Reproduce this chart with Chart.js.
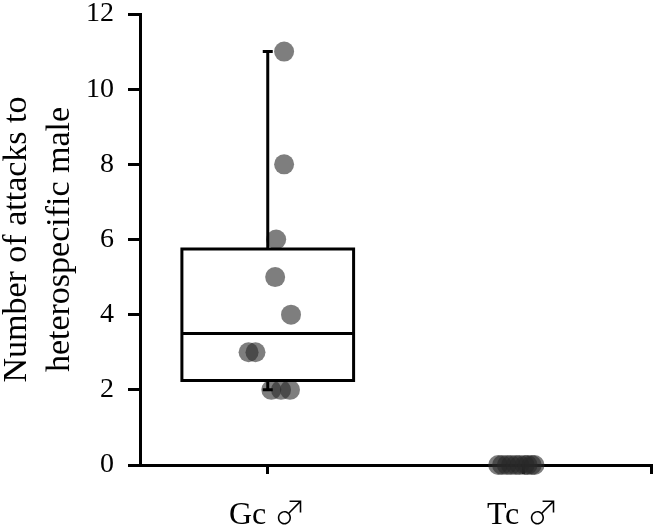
<!DOCTYPE html>
<html lang="en">
<head>
  <meta charset="UTF-8" />
  <title>Attacks to heterospecific male</title>
  <script src="https://cdn.jsdelivr.net/npm/chart.js"></script>
  <style>
    /* Latin letters from the serif, the male sign from the wider CJK glyph */
    @font-face {
      font-family: 'LabelSerif';
      src: local('Liberation Serif');
      unicode-range: U+0000-25FF;
    }
    @font-face {
      font-family: 'LabelSerif';
      src: local('Noto Sans CJK JP Light'), local('Noto Sans CJK JP DemiLight'), local('Noto Sans CJK JP');
      unicode-range: U+2640-2642;
    }
    html, body { margin: 0; padding: 0; background: #fff; }
    #wrap { width: 661px; height: 532px; }
  </style>
</head>
<body>
  <div id="wrap"><canvas id="attackChart" width="661" height="532"></canvas></div>

  <script>
    // categories on the x axis (centre of each one sits at index + 0.5)
    const categories = ['Gc \u2642', 'Tc \u2642'];

    // number of attacks per male, and the horizontal jitter of each dot
    const gcValues = [11, 8, 6, 5, 4, 3, 3, 2, 2, 2];
    const gcJitter = [0.064, 0.064, 0.033, 0.029, 0.091, -0.075, -0.048, 0.014, 0.052, 0.087];
    const tcValues = [0, 0, 0, 0, 0, 0, 0, 0, 0, 0];
    const tcJitter = [-0.098, -0.083, -0.064, -0.048, -0.029, -0.014, 0.006, 0.017, 0.033, 0.044];

    const yTicks = [0, 2, 4, 6, 8, 10, 12];

    const FONT = "'Liberation Serif', 'Times New Roman', serif";
    const LABEL_FONT = "LabelSerif, 'Liberation Serif', serif";

    // quartile like Excel's QUARTILE.INC
    function quantile(sorted, p) {
      const pos = (sorted.length - 1) * p;
      const lo = Math.floor(pos);
      const hi = Math.ceil(pos);
      return sorted[lo] + (sorted[hi] - sorted[lo]) * (pos - lo);
    }
    function boxStats(values) {
      const s = values.slice().sort((a, b) => a - b);
      return {
        min: s[0],
        q1: quantile(s, 0.25),
        median: quantile(s, 0.5),
        q3: quantile(s, 0.75),
        max: s[s.length - 1]
      };
    }
    const boxes = [boxStats(gcValues), boxStats(tcValues)];

    function toPoints(values, jitter, idx) {
      return values.map((v, i) => ({ x: idx + 0.5 + jitter[i], y: v }));
    }

    // no extra room for the outer tick labels, the layout padding sets the plot area
    function noLabelPadding(scale) {
      scale.paddingTop = 0;
      scale.paddingBottom = 0;
      scale.paddingLeft = 0;
      scale.paddingRight = 0;
    }

    // draws the box and whiskers over the dots, using the chart scales
    const boxPlot = {
      id: 'boxPlot',
      afterDatasetsDraw(chart) {
        const { ctx, scales: { x, y } } = chart;
        const half = (x.getPixelForValue(1) - x.getPixelForValue(0)) * 0.336;
        const cap = 5;
        ctx.save();
        ctx.strokeStyle = '#000';
        ctx.lineWidth = 3;
        boxes.forEach((b, i) => {
          if (b.max === b.min) return;
          const cx = x.getPixelForValue(i + 0.5);
          const yq1 = y.getPixelForValue(b.q1);
          const yq3 = y.getPixelForValue(b.q3);
          const ymed = y.getPixelForValue(b.median);
          const ymax = y.getPixelForValue(b.max);
          const ymin = y.getPixelForValue(b.min);
          ctx.beginPath();
          ctx.rect(cx - half, yq3, half * 2, yq1 - yq3);
          ctx.moveTo(cx - half, ymed);
          ctx.lineTo(cx + half, ymed);
          ctx.moveTo(cx, yq3);
          ctx.lineTo(cx, ymax);
          ctx.moveTo(cx - cap, ymax);
          ctx.lineTo(cx + cap, ymax);
          ctx.moveTo(cx, yq1);
          ctx.lineTo(cx, ymin);
          ctx.moveTo(cx - cap, ymin);
          ctx.lineTo(cx + cap, ymin);
          ctx.stroke();
        });
        ctx.restore();
      }
    };

    const dotStyle = {
      pointRadius: 10,
      pointHoverRadius: 10,
      pointBorderWidth: 0,
      backgroundColor: 'rgba(40, 40, 40, 0.6)',
      borderColor: 'rgba(40, 40, 40, 0.6)',
      clip: false
    };

    function drawChart() {
      const ctx = document.getElementById('attackChart').getContext('2d');
      new Chart(ctx, {
        type: 'scatter',
        data: {
          datasets: [
            Object.assign({ label: categories[0], data: toPoints(gcValues, gcJitter, 0) }, dotStyle),
            Object.assign({ label: categories[1], data: toPoints(tcValues, tcJitter, 1) }, dotStyle)
          ]
        },
        options: {
          responsive: false,
          animation: false,
          layout: { padding: { top: 14, right: 3, left: 0, bottom: 0 } },
          plugins: {
            legend: { display: false },
            tooltip: { enabled: false }
          },
          scales: {
            x: {
              type: 'linear',
              min: 0,
              max: categories.length,
              afterBuildTicks(scale) {
                const t = categories.map((_, i) => ({ value: i + 0.5 }));
                t.push({ value: categories.length });
                scale.ticks = t;
              },
              afterFit(scale) {
                scale.height = 67;
                noLabelPadding(scale);
              },
              ticks: {
                color: '#000',
                padding: 22,
                font: { family: LABEL_FONT, size: 32 },
                callback(value) {
                  const i = Math.round(value - 0.5);
                  return Math.abs(value - 0.5 - i) < 1e-6 ? categories[i] : '';
                }
              },
              grid: {
                drawOnChartArea: false,
                drawTicks: true,
                tickLength: 9,
                color: '#000',
                lineWidth: 3
              },
              border: { display: true, color: '#000', width: 3 }
            },
            y: {
              min: 0,
              max: 12,
              afterBuildTicks(scale) {
                scale.ticks = yTicks.map(v => ({ value: v }));
              },
              afterFit(scale) {
                scale.width = 140;
                noLabelPadding(scale);
              },
              ticks: {
                color: '#000',
                padding: 14,
                font: { family: FONT, size: 28 }
              },
              grid: {
                drawOnChartArea: false,
                drawTicks: true,
                tickLength: 12,
                color: '#000',
                lineWidth: 3
              },
              border: { display: true, color: '#000', width: 3 },
              title: {
                display: true,
                text: ['Number of attacks to', 'heterospecific male'],
                color: '#000',
                padding: { top: -4, bottom: 0 },
                font: { family: FONT, size: 34, lineHeight: 1.25 }
              }
            }
          }
        },
        plugins: [boxPlot]
      });
    }

    // wait for the local label font before the single draw
    document.fonts.load('32px LabelSerif', categories.join(''))
      .catch(() => null)
      .then(drawChart);
  </script>
</body>
</html>
